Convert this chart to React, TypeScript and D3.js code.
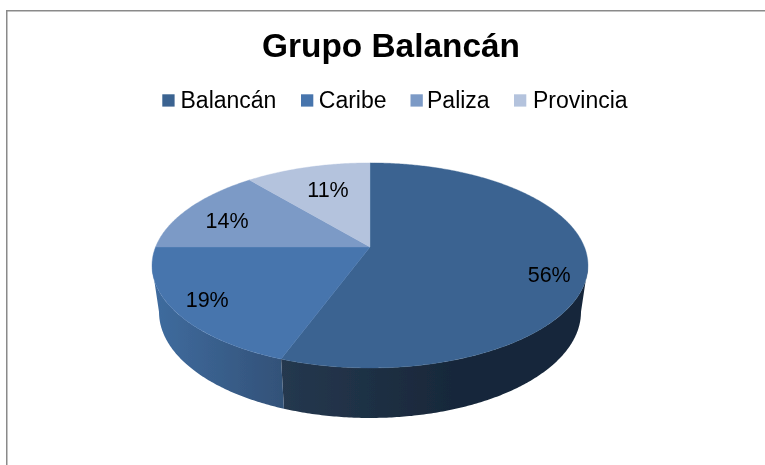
import React from "react";
import * as d3 from "d3";

const categories = ["Balancán", "Caribe", "Paliza", "Provincia"];
const values = [55.6, 19.4, 13.95, 11.05];
const colors = ["#3a6391", "#4674ad", "#7c9ac6", "#b4c3dd"];
const sideFrom = ["#25384f", "#3f6c9f"];
const sideTo = ["#18283a", "#335279"];

// layout
const W = 765, H = 465;
const apex = { x: 370, y: 247 };
const K = 0.18, A = 214.4, B = 99.2;
const ELL_CY = 265.5, BOTTOM_CY = 312, BOTTOM_SX = 0.968, BOTTOM_SY = 1.034;
const legendSwatchX = [162.3, 301, 410.5, 514];
const legendTextX = [180.5, 318.8, 427, 533];
const labelPos: [number, number][] = [[549.2, 282], [207.2, 307], [227, 227.5], [328, 196.5]];
const FONT = "'Liberation Sans', Arial, sans-serif";

const pieAngles = d3.pie<number>().sort(null).startAngle(0).endAngle(2 * Math.PI)(values);
const pct = d3.format(".0f");

function top(t: number): [number, number] {
  const w = 1 + K * Math.cos(t);
  return [apex.x + (A * Math.sin(t)) / w, apex.y - (B * Math.cos(t)) / w];
}
function bottom(t: number): [number, number] {
  const [x, y] = top(t);
  return [apex.x + (x - apex.x) * BOTTOM_SX, BOTTOM_CY + (y - ELL_CY) * BOTTOM_SY];
}
const line = d3.line();
function samples(a: number, b: number) {
  const n = Math.max(2, Math.ceil(Math.abs(b - a) / 0.01));
  return d3.range(n + 1).map((i) => a + ((b - a) * i) / n);
}
const slicePath = (a: number, b: number) =>
  line([[apex.x, apex.y], ...samples(a, b).map(top)]) + "Z";
const sidePath = (a: number, b: number) =>
  line([...samples(a, b).map(top), ...samples(b, a).map(bottom)]) + "Z";

// Visible wall: between the two silhouette angles of the projected rim
const wallStart = Math.acos(-K);
const wallEnd = 2 * Math.PI - wallStart;
const wallSplit = pieAngles[0].endAngle;
const walls = [
  { a: wallStart, b: wallSplit, x0: top(wallSplit)[0], x1: top(wallStart)[0] },
  { a: wallSplit, b: wallEnd, x0: top(wallSplit)[0], x1: top(wallEnd)[0] },
];

export default function App() {
  return (
    <svg
      width={W}
      height={H}
      viewBox={`0 0 ${W} ${H}`}
      style={{ position: "fixed", left: 0, top: 0, background: "#fff", fontFamily: FONT }}
    >
      <defs>
        {walls.map((w, i) => (
          <linearGradient
            key={i}
            id={`wall${i}`}
            gradientUnits="userSpaceOnUse"
            x1={i === 0 ? w.x0 : w.x1}
            x2={i === 0 ? w.x0 + 170 : w.x0}
            y1={0}
            y2={0}
          >
            <stop offset="0" stopColor={i === 0 ? sideFrom[0] : sideFrom[1]} />
            <stop offset="1" stopColor={i === 0 ? sideTo[0] : sideTo[1]} />
          </linearGradient>
        ))}
        <filter id="soft" x="-2%" y="-2%" width="104%" height="104%">
          <feGaussianBlur stdDeviation={0.4} />
        </filter>
      </defs>
      <g filter="url(#soft)">
        <path d={`M6.75 ${H + 5}V10.75H${W + 5}`} fill="none" stroke="#8a8a8a" strokeWidth={1.5} />
        <text x={391} y={57} textAnchor="middle" fontSize={33.4} fontWeight={700} fill="#000">
          Grupo Balancán
        </text>
        {categories.map((c, i) => (
          <g key={c}>
            <rect x={legendSwatchX[i]} y={94.3} width={12.3} height={12.3} fill={colors[i]} />
            <text x={legendTextX[i]} y={108} fontSize={23} fill="#000">
              {c}
            </text>
          </g>
        ))}
        {walls.map((w, i) => (
          <path key={i} d={sidePath(w.a, w.b)} fill={`url(#wall${i})`} />
        ))}
        {pieAngles.map((p, i) => (
          <path
            key={i}
            d={slicePath(p.startAngle, p.endAngle)}
            fill={colors[i]}
            stroke={colors[i]}
            strokeWidth={0.4}
          />
        ))}
        {values.map((v, i) => (
          <text
            key={i}
            x={labelPos[i][0]}
            y={labelPos[i][1]}
            textAnchor="middle"
            fontSize={21.5}
            fill="#000"
          >
            {pct(v)}%
          </text>
        ))}
      </g>
    </svg>
  );
}
